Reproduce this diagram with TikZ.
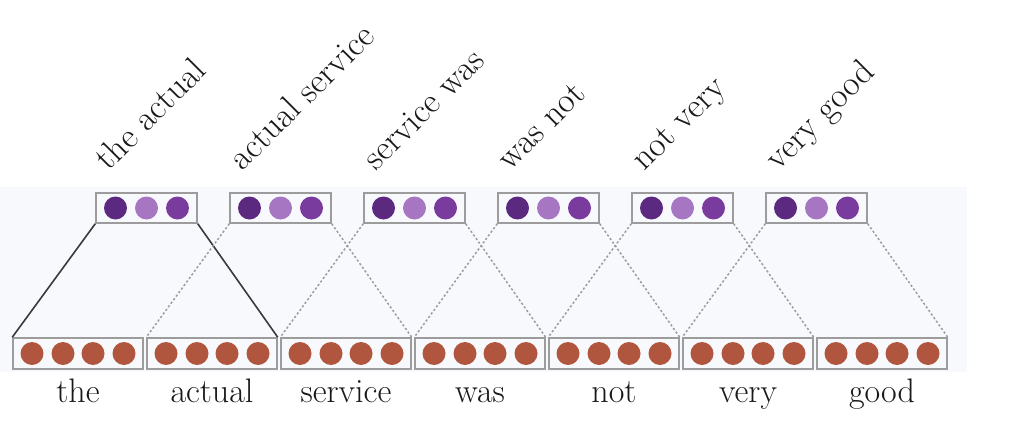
\documentclass[tikz,border=0pt]{standalone}
\usepackage{fontspec}
\usepackage{tikz}
\definecolor{panel}{HTML}{F8F9FC}
\definecolor{frame}{HTML}{9C9C9C}
\definecolor{linkdark}{HTML}{3A3A3A}
\definecolor{purpA}{HTML}{5B2A80}
\definecolor{purpB}{HTML}{A676C2}
\definecolor{purpC}{HTML}{7A3B9E}
\definecolor{rust}{HTML}{B0553E}
\tikzset{
  wordbox/.style={draw=frame, line width=1.5pt, minimum width=130pt, minimum height=31pt, inner sep=0pt},
  pairbox/.style={draw=frame, line width=1.5pt, minimum width=101pt, minimum height=30pt, inner sep=0pt},
  dot/.style={circle, inner sep=0pt, minimum size=23pt},
  wordlabel/.style={font=\fontsize{34}{40}\selectfont, text=black!90, anchor=base},
  pairlabel/.style={font=\fontsize{35}{42}\selectfont, text=black!90, anchor=base west, rotate=45, inner sep=0pt},
  solidlink/.style={draw=linkdark, line width=1.6pt},
  dottedlink/.style={draw=frame, line width=1.5pt, dash pattern=on 2.2pt off 2.2pt},
}
\begin{document}
\begin{tikzpicture}[x=1pt, y=-1pt]
  \useasboundingbox (0,0) rectangle (1013,436);
  \fill[panel] (0,187) rectangle (967,372);

  % word vectors
  \foreach \w [count=\i] in {the,actual,service,was,not,very,good} {
    \pgfmathsetmacro{\cx}{78+134*(\i-1)}
    \node[wordbox] (b\i) at (\cx,353.5) {};
    \foreach \k/\dx in {1/-46,2/-15,3/15,4/46}
      \node[dot, fill=rust] (b\i c\k) at (\cx+\dx,353.5) {};
    \node[wordlabel] (w\i) at (\cx,402) {\w};
  }

  % bigram vectors
  \foreach \p [count=\i] in {the actual,actual service,service was,was not,not very,very good} {
    \pgfmathsetmacro{\cx}{146.5+134*(\i-1)}
    \node[pairbox] (t\i) at (\cx,208) {};
    \node[dot, fill=purpA] (t\i c1) at (\cx-31,208) {};
    \node[dot, fill=purpB] (t\i c2) at (\cx,208) {};
    \node[dot, fill=purpC] (t\i c3) at (\cx+31,208) {};
    \node[pairlabel] (p\i) at (\cx-38,172) {\p};
  }

  % window links
  \draw[solidlink] (t1.south west) -- (b1.north west);
  \draw[solidlink] (t1.south east) -- (b2.north east);
  \foreach \i [evaluate=\i as \j using int(\i+1)] in {2,...,6} {
    \draw[dottedlink] (t\i.south west) -- (b\i.north west);
    \draw[dottedlink] (t\i.south east) -- (b\j.north east);
  }
\end{tikzpicture}
\end{document}
